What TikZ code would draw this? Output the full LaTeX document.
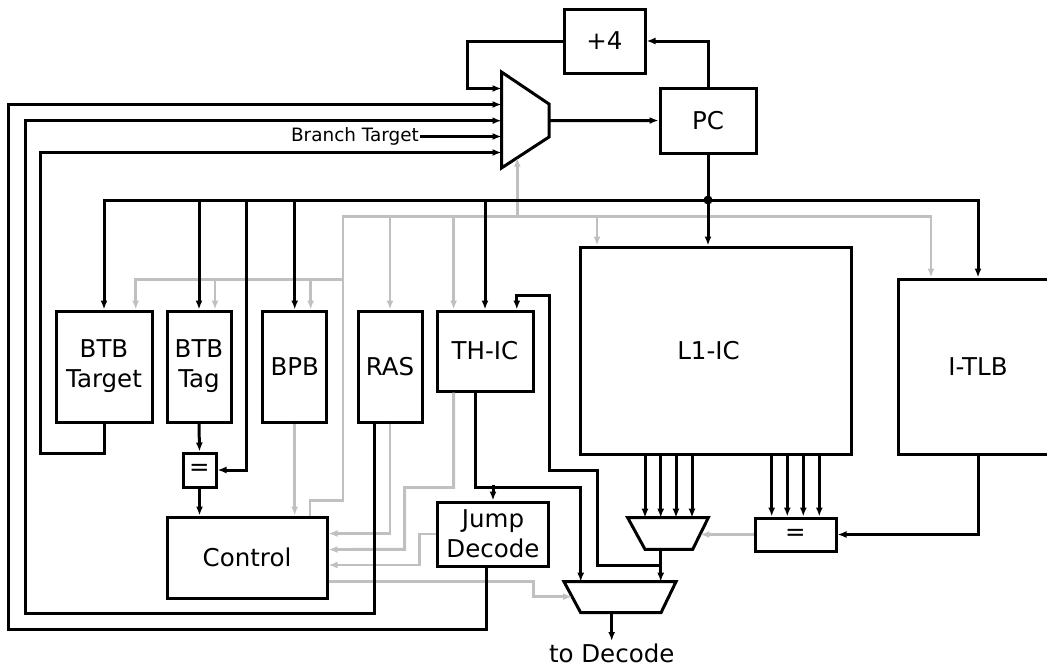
\documentclass[tikz,border=0pt]{standalone}
\usepackage{fontspec}
\setmainfont{DejaVu Sans}
\usetikzlibrary{arrows.meta, calc}
\definecolor{ctlgray}{RGB}{192,192,192}

\tikzset{
  unit/.style={draw, line width=3pt, inner sep=0pt, align=center,
    font=\fontsize{24.5}{30}\selectfont},
  wire/.style={line width=3pt},
  ctl/.style={line width=2.9pt, ctlgray},
  tag/.style={font=\fontsize{18.4}{22}\selectfont, inner sep=1pt},
}

\begin{document}
\begin{tikzpicture}[x=1pt, y=-1pt, >={Latex[length=9pt,width=7pt]}]
  \useasboundingbox (0,0) rectangle (1047,667);
  \clip (0,0) rectangle (1047,667);

  % storage and logic blocks
  \node[unit, minimum width=81pt, minimum height=64pt] (plus4) at (604.5,41) {+4};
  \node[unit, minimum width=96pt, minimum height=65pt] (pc) at (708,120.5) {PC};
  \node[unit, minimum width=96pt, minimum height=111pt] (btbtarget) at (104,366.5) {BTB\\Target};
  \node[unit, minimum width=64pt, minimum height=111pt] (btbtag) at (199,366.5) {BTB\\Tag};
  \node[unit, minimum width=64pt, minimum height=111pt] (bpb) at (294.7,366.5) {BPB};
  \node[unit, minimum width=64pt, minimum height=111pt] (ras) at (390,366.5) {RAS};
  \node[unit, minimum width=96pt, minimum height=80pt] (thic) at (485,351) {TH-IC};
  \node[unit, minimum width=271pt, minimum height=207pt] (l1ic) at (715.5,350.5) {L1-IC\hspace*{14pt}};
  \node[unit, minimum width=160pt, minimum height=175pt] (itlb) at (978,366.5) {I-TLB};
  \node[unit, minimum width=33pt, minimum height=34pt] (eqtag) at (199.5,470) {=};
  \node[unit, minimum width=160pt, minimum height=81pt] (ctrl) at (247,557.5) {Control};
  \node[unit, minimum width=111.5pt, minimum height=64pt] (jump) at (493,534) {Jump\\Decode};
  \node[unit, minimum width=81pt, minimum height=33pt] (eqtlb) at (795.5,534.5) {=};
  \node[tag, anchor=east] (brtarget) at (420,136.5) {Branch Target};
  \node[unit, draw=none, anchor=north, inner sep=1pt] (todecode) at (611.7,641) {to Decode};

  % muxes
  \draw[wire] (501.5,72) -- (549,104) -- (549,137) -- (501.5,168) -- cycle;
  \coordinate (pcmux-out) at (549,120.7);
  \coordinate (pcmux-sel) at (517.3,157.7);
  \foreach \i/\y in {1/88.5,2/104.5,3/120.7,4/136.5,5/152.5}
    \coordinate (pcmux-in\i) at (501.5,\y);
  \coordinate (waymux-nw) at (627.7,517.7);
  \coordinate (waymux-out) at (660.7,549.3);
  \coordinate (waymux-sel) at (700.3,534.5);
  \draw[wire] (waymux-nw) -- (708.3,517.7) -- (692.7,549.3) -- (645,549.3) -- cycle;
  \coordinate (outmux-in1) at (580.7,581.7);
  \coordinate (outmux-in2) at (660.7,581.7);
  \coordinate (outmux-sel) at (572,596.7);
  \coordinate (outmux-out) at (611.7,612.7);
  \draw[wire] (564,581.7) -- (676,581.7) -- (661,612.7) -- (580.7,612.7) -- cycle;

  % control lines
  \coordinate (ctlbus) at (343,216.7);
  \coordinate (ctlbtb) at (343,279.3);
  \draw[ctl,->] ([xshift=63pt]ctrl.north) -- ++(0,-15) -| (ctlbus) -| ([xshift=-47pt]itlb.north);
  \draw[ctl,->] (ctlbtb) -| ([xshift=31.7pt]btbtarget.north);
  \draw[ctl,->] (ctlbtb) -| ([xshift=16pt]btbtag.north);
  \draw[ctl,->] (ctlbtb) -| ([xshift=16pt]bpb.north);
  \draw[ctl,->] (ctlbus) -| (ras.north);
  \draw[ctl,->] (ctlbus) -| ([xshift=-31.4pt]thic.north);
  \draw[ctl,->] (ctlbus) -| ([xshift=-118.5pt]l1ic.north);
  \draw[ctl,->] (ctlbus) -| (pcmux-sel);
  \draw[ctl,->] (bpb.south) -- (bpb.south |- ctrl.north);
  \draw[ctl,->] (ras.south) |- ([yshift=24pt]ctrl.east);
  \draw[ctl,->] ([xshift=-31.4pt]thic.south) -- ++(0,95) -| (404.6,549.3) -- ([yshift=8pt]ctrl.east);
  \draw[ctl,->] (jump.west) -- ++(-16,0) |- ([yshift=-7.5pt]ctrl.east);
  \draw[ctl,->] ([yshift=-24pt]ctrl.east) -| (533.3,596.7) -- (outmux-sel);
  \draw[ctl,->] (eqtlb.west) -- (waymux-sel);

  % next pc
  \draw[wire,->] (pcmux-out) -- (pc.west);
  \draw[wire,->] (pc.north) |- (plus4.east);
  \draw[wire,->] (plus4.west) -- ++(-95.5,0) |- (pcmux-in1);
  \draw[wire,->] ([xshift=-7pt]jump.south) |- (8,629) |- (pcmux-in2);
  \draw[wire,->] ([xshift=-16pt]ras.south) |- (25,613.3) |- (pcmux-in3);
  \draw[wire,->] (brtarget) -- (pcmux-in4);
  \draw[wire,->] (btbtarget.south) |- (40.4,453) |- (pcmux-in5);

  % fetch address bus
  \coordinate (pcbus) at (708,200);
  \draw[wire] (pc.south) -- (pcbus);
  \draw[wire,->] (pcbus) -- ([xshift=-7.5pt]l1ic.north);
  \draw[wire,->] (pcbus) -| (itlb.north);
  \foreach \n in {btbtarget,btbtag,bpb,thic}
    \draw[wire,->] (pcbus) -| (\n.north);
  \draw[wire,->] (pcbus) -| (246.4,470) -- (eqtag.east);
  \fill (pcbus) circle (4.5pt);
  \draw[wire,->] (btbtag.south) -- (eqtag.north);
  \draw[wire,->] (eqtag.south) -- (eqtag.south |- ctrl.north);

  % fetch path
  \draw[wire,->] ([xshift=-9.5pt]thic.south) -- ++(0,95) -| (outmux-in1);
  \draw[wire,->] (jump.north) ++(0,-16) -- (jump.north);
  \foreach \x in {645,660.7,676,692}
    \draw[wire,->] (l1ic.south -| \x,0) -- (waymux-nw -| \x,0);
  \foreach \x in {771.7,787.3,803.3,819.3}
    \draw[wire,->] (l1ic.south -| \x,0) -- (eqtlb.north -| \x,0);
  \draw[wire,->] (itlb.south) |- (eqtlb.east);
  \draw[wire,->] (waymux-out) -- (outmux-in2);
  \draw[wire,->] (waymux-out |- 0,565.7) -| (597.3,470) -| (549,295) -| ([xshift=31.8pt]thic.north);
  \draw[wire,->] (outmux-out) -- (todecode);
\end{tikzpicture}
\end{document}
